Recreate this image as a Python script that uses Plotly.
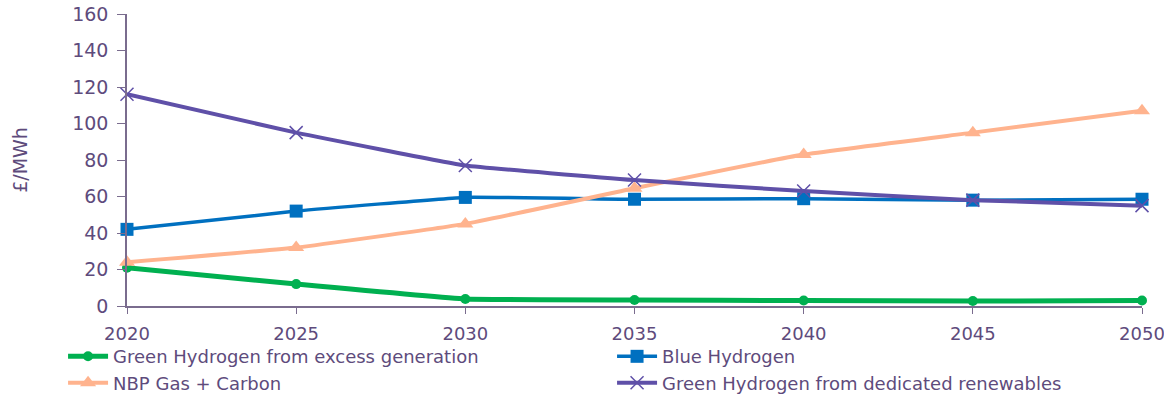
import plotly.graph_objects as go

years = [2020, 2025, 2030, 2035, 2040, 2045, 2050]
green_excess = [21, 12, 3.8, 3.3, 3.0, 2.7, 3.0]
blue_h2 = [42, 52, 59.5, 58.5, 58.8, 58, 58.5]
nbp_gas_carbon = [24, 32, 45, 64.5, 83, 95, 107]
green_dedicated = [116, 95, 77, 69, 63, 58, 55]

text_col = "#5E4B7C"
axis_col = "#7A6C8E"
font_family = "'DejaVu Sans', sans-serif"
fsize = 18

fig = go.Figure()
fig.add_trace(go.Scatter(
    x=years, y=green_excess, name="Green Hydrogen from excess generation",
    mode="lines+markers", line=dict(color="#00B050", width=5, shape="spline", smoothing=0.3),
    marker=dict(symbol="circle", size=10, color="#00B050"), cliponaxis=False))
fig.add_trace(go.Scatter(
    x=years, y=blue_h2, name="Blue Hydrogen",
    mode="lines+markers", line=dict(color="#0070C0", width=3.5, shape="spline", smoothing=0.3),
    marker=dict(symbol="square", size=13, color="#0070C0"), cliponaxis=False))
fig.add_trace(go.Scatter(
    x=years, y=nbp_gas_carbon, name="NBP Gas + Carbon",
    mode="lines+markers", line=dict(color="#FFB38E", width=4, shape="spline", smoothing=0.3),
    marker=dict(symbol="triangle-up", size=14, color="#FFB38E"), cliponaxis=False))
fig.add_trace(go.Scatter(
    x=years, y=green_dedicated, name="Green Hydrogen from dedicated renewables",
    mode="lines+markers", line=dict(color="#5F50A8", width=4, shape="spline", smoothing=0.3),
    marker=dict(symbol="x-thin", size=13, color="#5F50A8", line=dict(width=1.5, color="#5F50A8")),
    cliponaxis=False))

fig.update_layout(
    width=1164, height=396,
    margin=dict(l=127, r=22, t=14, b=90, autoexpand=False),
    paper_bgcolor="white", plot_bgcolor="white",
    font=dict(family=font_family, size=fsize, color=text_col),
    showlegend=True,
    legend=dict(
        orientation="h", xref="paper", yref="paper",
        x=-0.063, xanchor="left", y=-0.11, yanchor="top",
        entrywidth=494, entrywidthmode="pixels",
        font=dict(size=18, color=text_col), itemwidth=40,
        tracegroupgap=0, bgcolor="rgba(0,0,0,0)",
    ),
    xaxis=dict(
        range=[2020, 2050], tickmode="array", tickvals=years,
        showgrid=False, zeroline=False, showline=True, linecolor=axis_col, linewidth=1.5,
        ticks="outside", ticklen=6, tickcolor=axis_col, ticklabelstandoff=5,
        ticklabeloverflow="allow", automargin=False,
        tickfont=dict(size=fsize, color=text_col),
    ),
    yaxis=dict(
        range=[0, 160], tickmode="array", tickvals=list(range(0, 161, 20)),
        showgrid=False, zeroline=False, showline=True, linecolor=axis_col, linewidth=1.5,
        ticks="outside", ticklen=8, tickcolor=axis_col, ticklabelstandoff=5,
        automargin=False,
        tickfont=dict(size=19, color=text_col),
        title=dict(text="£/MWh", font=dict(size=19, color=text_col), standoff=40),
    ),
)
fig.write_html("out.html")
